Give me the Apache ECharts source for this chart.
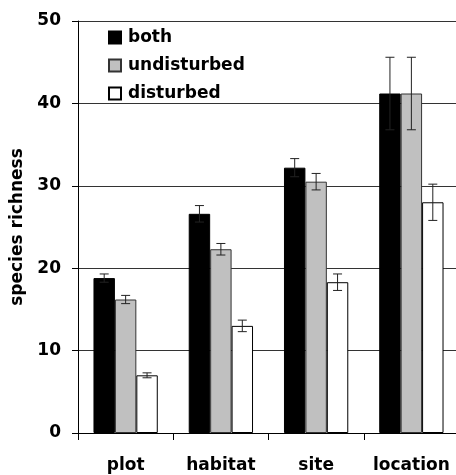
<!DOCTYPE html>
<html>
<head>
<meta charset="utf-8">
<script src="https://cdn.jsdelivr.net/npm/echarts@6/dist/echarts.min.js"></script>
<style>html,body{margin:0;padding:0;background:#fff}#c{width:456px;height:475px}</style>
</head>
<body>
<div id="c"></div>
<script>
const categories = ['plot', 'habitat', 'site', 'location'];
const seriesNames = ['both', 'undisturbed', 'disturbed'];
const bothValues = [18.8, 26.6, 32.2, 41.2];
const bothErrors = [0.5, 1.0, 1.1, 4.4];
const undisturbedValues = [16.2, 22.3, 30.5, 41.2];
const undisturbedErrors = [0.5, 0.7, 1.0, 4.4];
const disturbedValues = [7.0, 13.0, 18.3, 28.0];
const disturbedErrors = [0.3, 0.7, 1.0, 2.2];
const yTicks = [0, 10, 20, 30, 40, 50];

const values = [bothValues, undisturbedValues, disturbedValues];
const errors = [bothErrors, undisturbedErrors, disturbedErrors];
const colors = ['#000000', '#c0c0c0', '#ffffff'];
const borders = ['#000000', '#333333', '#000000'];
const CAT_GAP = 0.325;
const FONT = 'DejaVu Sans';

const chart = echarts.init(document.getElementById('c'), null, {renderer: 'canvas'});

const barSeries = seriesNames.map((n, i) => ({
  name: n,
  type: 'bar',
  data: values[i],
  barGap: '0%',
  barCategoryGap: (CAT_GAP * 100) + '%',
  itemStyle: {color: colors[i], borderColor: borders[i], borderWidth: 1},
  emphasis: {disabled: true},
  z: 2
}));

const errSeries = seriesNames.map((n, i) => ({
  type: 'custom',
  z: 5,
  silent: true,
  data: values[i].map((v, k) => [k, v, errors[i][k]]),
  encode: {x: 0, y: 1},
  renderItem: function (params, api) {
    const k = api.value(0), v = api.value(1), e = api.value(2);
    const band = api.size([1, 0])[0];
    const bw = band * (1 - CAT_GAP) / 3;
    const c = api.coord([k, v]);
    const x = c[0] + (i - 1) * bw;
    const yt = api.coord([k, v + e])[1];
    const yb = api.coord([k, v - e])[1];
    const cap = 4.5;
    const st = {stroke: '#222', lineWidth: 1};
    return {
      type: 'group',
      children: [
        {type: 'line', shape: {x1: x, y1: yt, x2: x, y2: yb}, style: st},
        {type: 'line', shape: {x1: x - cap, y1: yt, x2: x + cap, y2: yt}, style: st},
        {type: 'line', shape: {x1: x - cap, y1: yb, x2: x + cap, y2: yb}, style: st}
      ]
    };
  }
}));

chart.setOption({
  animation: false,
  backgroundColor: '#fff',
  grid: {left: 78, top: 21, height: 412, width: 381, containLabel: false, outerBoundsMode: 'none'},
  legend: {
    data: seriesNames,
    orient: 'vertical',
    left: 108,
    top: 29,
    padding: 0,
    itemWidth: 12,
    itemHeight: 12,
    itemGap: 11,
    icon: 'rect',
    selectedMode: false,
    textStyle: {fontFamily: FONT, fontWeight: 'bold', fontSize: 17, color: '#000', lineHeight: 17, padding: [0, 0, 0, 2]}
  },
  xAxis: {
    type: 'category',
    data: categories,
    axisLine: {lineStyle: {color: '#000', width: 1}},
    axisTick: {show: true, length: 7, interval: 0, alignWithLabel: false, lineStyle: {color: '#000'}},
    axisLabel: {fontFamily: FONT, fontWeight: 'bold', fontSize: 17, color: '#000', margin: 24, interval: 0},
    splitLine: {show: false}
  },
  yAxis: {
    type: 'value',
    min: yTicks[0],
    max: yTicks[yTicks.length - 1],
    interval: yTicks[1] - yTicks[0],
    name: 'species richness',
    nameLocation: 'middle',
    nameGap: 45,
    nameTextStyle: {fontFamily: FONT, fontWeight: 'bold', fontSize: 17, color: '#000'},
    axisLine: {show: true, lineStyle: {color: '#000', width: 1}},
    axisTick: {show: true, length: 6, lineStyle: {color: '#000'}},
    axisLabel: {fontFamily: FONT, fontWeight: 'bold', fontSize: 17, color: '#000', margin: 17},
    splitLine: {show: true, lineStyle: {color: '#333', width: 1}}
  },
  series: barSeries.concat(errSeries)
});
</script>
</body>
</html>
